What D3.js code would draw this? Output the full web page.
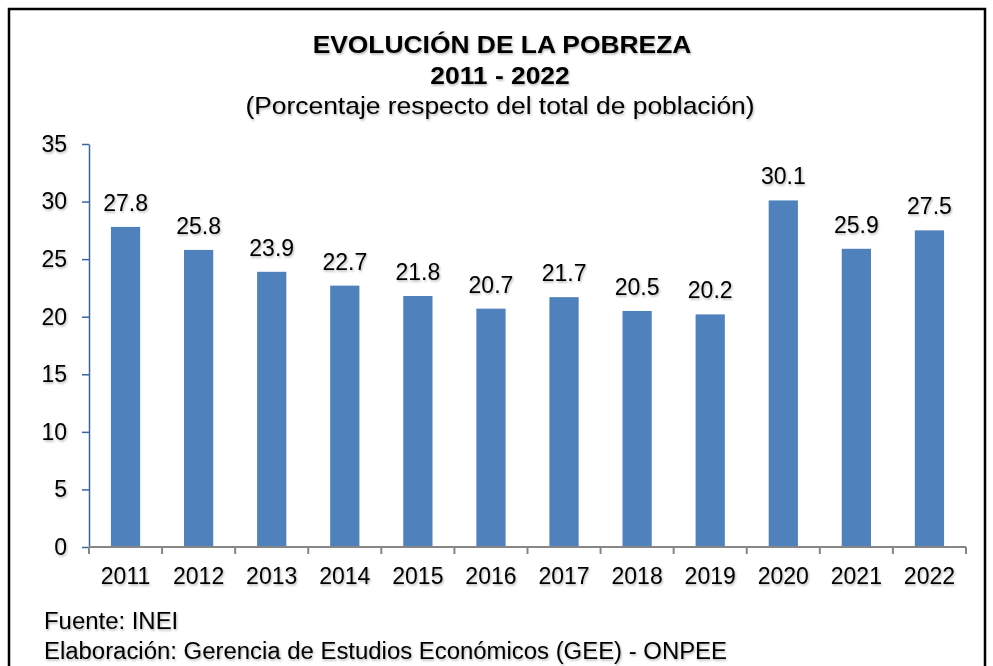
<!DOCTYPE html>
<html>
<head>
<meta charset="utf-8">
<script src="https://cdn.jsdelivr.net/npm/d3@7"></script>
<style>
  body { margin: 0; background: #fff; }
  svg text { font-family: Arial, "Liberation Sans", sans-serif; fill: #000; }
</style>
</head>
<body>
<script>
var years = ['2011', '2012', '2013', '2014', '2015', '2016', '2017', '2018', '2019', '2020', '2021', '2022'];
var poverty = [27.8, 25.8, 23.9, 22.7, 21.8, 20.7, 21.7, 20.5, 20.2, 30.1, 25.9, 27.5];
var yTicks = [0, 5, 10, 15, 20, 25, 30, 35];

var width = 993,
  height = 666,
  margin = {top: 144, right: 27, bottom: 119, left: 89};

var svg = d3.select('body').append('svg')
  .attr('width', width)
  .attr('height', height);

// soft shadow under the text, like the office export
var defs = svg.append('defs');
defs.append('filter')
  .attr('id', 'shadow')
  .attr('x', '-10%').attr('y', '-20%')
  .attr('width', '130%').attr('height', '160%')
  .append('feDropShadow')
  .attr('dx', 1).attr('dy', 1.5)
  .attr('stdDeviation', 0.8)
  .attr('flood-color', '#000')
  .attr('flood-opacity', 0.3);

// the source picture is a bit wider than tall, so some text is stretched
function label(parent, txt, px, py, size, opts) {
  opts = opts || {};
  return parent.append('text')
    .attr('transform', `translate(${px},${py}) scale(${opts.sx || 1},1)`)
    .attr('text-anchor', opts.anchor || 'start')
    .style('font-size', size + 'px')
    .style('font-weight', opts.bold ? 'bold' : 'normal')
    .text(txt);
}

// outer frame
svg.append('path')
  .attr('d', 'M9,680 V9 H985 V680')
  .attr('fill', 'none')
  .attr('stroke', '#000')
  .attr('stroke-width', 2.5);

var x = d3.scaleBand()
  .domain(years)
  .range([margin.left, width - margin.right])
  .paddingInner(0.6)
  .paddingOuter(0.3);

var y = d3.scaleLinear()
  .domain([0, 35])
  .range([height - margin.bottom, margin.top]);

// title
var title = svg.append('g').attr('filter', 'url(#shadow)');
label(title, 'EVOLUCIÓN DE LA POBREZA', 502, 53, 24, {bold: true, anchor: 'middle', sx: 1.1});
label(title, '2011 - 2022', 500, 84, 24, {bold: true, anchor: 'middle', sx: 1.1});
label(title, '(Porcentaje respecto del total de población)', 500, 114, 24, {anchor: 'middle', sx: 1.1});

// bars
svg.append('g')
  .selectAll('rect')
  .data(poverty)
  .enter().append('rect')
  .attr('x', (d, i) => x(years[i]))
  .attr('y', d => y(d))
  .attr('width', x.bandwidth())
  .attr('height', d => y(0) - y(d))
  .attr('fill', '#4f81bd');

// value labels
svg.append('g')
  .attr('filter', 'url(#shadow)')
  .selectAll('text')
  .data(poverty)
  .enter().append('text')
  .attr('x', (d, i) => x(years[i]) + x.bandwidth() / 2)
  .attr('y', d => y(d) - 16)
  .attr('text-anchor', 'middle')
  .style('font-size', '23px')
  .text(d => d.toFixed(1));

// y axis
var yAxis = svg.append('g')
  .attr('transform', `translate(${margin.left},0)`)
  .call(d3.axisLeft(y).tickValues(yTicks).tickSize(7).tickPadding(15).tickSizeOuter(0));
yAxis.select('.domain').attr('stroke', '#3b64a0').attr('stroke-width', 1.5);
yAxis.selectAll('.tick line').attr('stroke', '#3b64a0').attr('stroke-width', 1.5);
yAxis.selectAll('.tick text')
  .attr('filter', 'url(#shadow)')
  .style('font-size', '23px')
  .attr('fill', '#000');

// x axis with ticks between categories
var xAxisG = svg.append('g')
  .attr('transform', `translate(0,${y(0)})`);
xAxisG.append('line')
  .attr('x1', margin.left).attr('x2', width - margin.right)
  .attr('stroke', '#868686').attr('stroke-width', 2);
var step = x.step();
var bounds = years.map((d, i) => x(d) - (step - x.bandwidth()) / 2).concat([width - margin.right]);
xAxisG.selectAll('.xtick')
  .data(bounds)
  .enter().append('line')
  .attr('class', 'xtick')
  .attr('x1', d => d).attr('x2', d => d)
  .attr('y1', 0).attr('y2', 7)
  .attr('stroke', '#868686').attr('stroke-width', 2);
xAxisG.append('g')
  .attr('filter', 'url(#shadow)')
  .selectAll('text')
  .data(years)
  .enter().append('text')
  .attr('x', d => x(d) + x.bandwidth() / 2)
  .attr('y', 37)
  .attr('text-anchor', 'middle')
  .style('font-size', '23px')
  .text(d => d);

// source notes
var notes = svg.append('g').attr('filter', 'url(#shadow)');
label(notes, 'Fuente: INEI', 44, 629, 23, {sx: 1.04});
label(notes, 'Elaboración: Gerencia de Estudios Económicos (GEE) - ONPEE', 44, 659, 23, {sx: 1.04});
</script>
</body>
</html>
